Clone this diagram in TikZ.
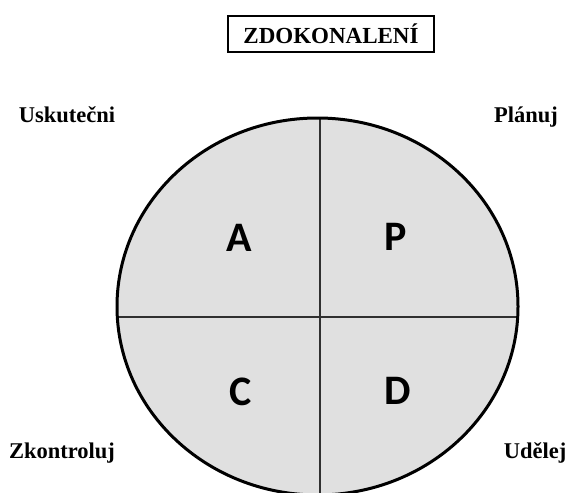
\documentclass[tikz,border=0pt]{standalone}
\usepackage{fontspec}
\setmainfont{Liberation Serif}
\newfontfamily\quadfont{Carlito}
\usetikzlibrary{positioning}
\definecolor{quadfill}{HTML}{E0E0E0}
\definecolor{divline}{HTML}{303030}

\begin{document}
\begin{tikzpicture}[x=1pt,y=-1pt,
    every node/.style={inner sep=0pt},
    phase/.style={font=\fontsize{22.5}{26}\selectfont\bfseries,anchor=base},
    quad/.style={font=\fontsize{42}{46}\quadfont\bfseries,anchor=base}]
    \useasboundingbox (0,0) rectangle (569,492);
    \clip (0,0) rectangle (569,492);
    \fill[white] (0,0) rectangle (569,492);

    \node[draw,line width=1.4pt,minimum width=206pt,minimum height=36pt,
      font=\fontsize{23}{26}\selectfont\bfseries] (title) at (331,34) {ZDOKONALENÍ};

    \fill[quadfill] (317.5,306.5) ellipse [x radius=200.5,y radius=188.5];
    \begin{scope}
      \clip (317.5,306.5) ellipse [x radius=200.5,y radius=188.5];
      \draw[divline,line width=1.5pt] (320,100) -- (320,520);
      \draw[divline,line width=1.5pt] (100,317) -- (540,317);
    \end{scope}
    \draw[line width=3pt] (317.5,306.5) ellipse [x radius=200.5,y radius=188.5];

    \node[quad] (act) at (239,251) {A};
    \node[quad] (plan) at (396,250) {P};
    \node[quad] (check) at (241,405) {C};
    \node[quad] (do) at (398,404) {D};

    \node[phase] (uskutecni) at (67,122) {Uskutečni};
    \node[phase] (planuj) at (526,122) {Plánuj};
    \node[phase] (zkontroluj) at (62,458) {Zkontroluj};
    \node[phase] (udelej) at (535,458) {Udělej};
  \end{tikzpicture}
\end{document}
